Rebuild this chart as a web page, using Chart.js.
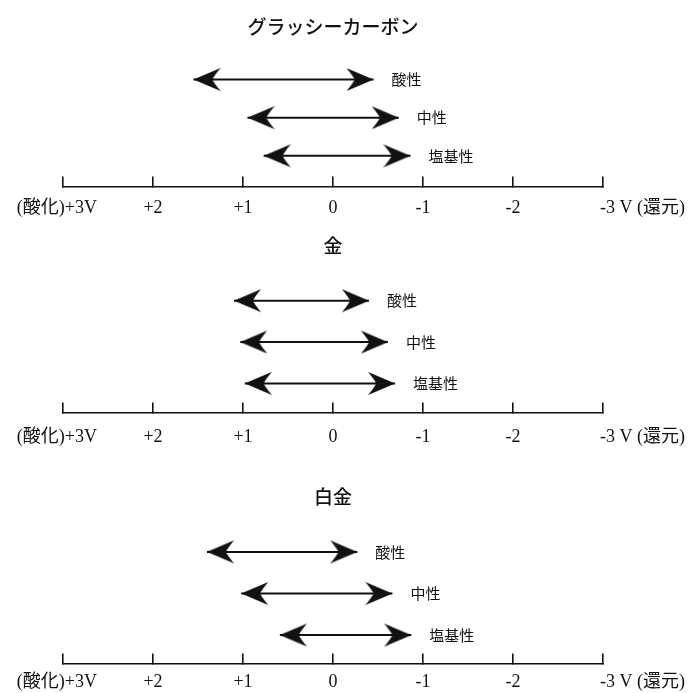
<!DOCTYPE html>
<html lang="ja">
<head>
<meta charset="utf-8">
<title>電位窓</title>
<script src="https://cdn.jsdelivr.net/npm/chart.js@4.4.1/dist/chart.umd.min.js"></script>
<style>
  html, body { margin: 0; padding: 0; background: #fff; overflow: hidden; width: 699px; height: 693px; }
  canvas { position: absolute; left: 0; }
</style>
</head>
<body>
<canvas id="panel0" width="699" height="232" style="top:8px"></canvas>
<canvas id="panel1" width="699" height="245" style="top:227px"></canvas>
<canvas id="panel2" width="699" height="233" style="top:478px"></canvas>
<script>
// Potential axis tick labels, from +3 V (oxidation) to -3 V (reduction)
const tickValues = [3, 2, 1, 0, -1, -2, -3];
const tickLabels = ['(酸化)+3V', '+2', '+1', '0', '-1', '-2', '-3 V (還元)'];

// Electrolyte conditions, top row to bottom row
const conditions = ['酸性', '中性', '塩基性'];
const rowLevels = [2, 1, 0];

// Electrode names
const electrodes = ['グラッシーカーボン', '金', '白金'];

// Potential windows [anodic limit, cathodic limit] in V for each condition
const glassyCarbonWindows = [[1.55, -0.45], [0.95, -0.73], [0.77, -0.86]];
const goldWindows = [[1.10, -0.40], [1.03, -0.61], [0.98, -0.69]];
const platinumWindows = [[1.40, -0.27], [1.02, -0.66], [0.59, -0.87]];

const INK = '#111';
const SERIF = '"Liberation Serif", "Noto Sans CJK JP", serif';
const GOTHIC = '"Noto Sans CJK JP", "Noto Sans", sans-serif';
const TICK_SIZE = 18;

// Barbed arrowhead image; the tip sits at the image centre, pointing right
function makeArrowHead() {
  const L = 27, H = 11.5;
  const c = document.createElement('canvas');
  c.width = 2 * L;
  c.height = 2 * H + 2;
  const g = c.getContext('2d');
  const cx = L, cy = H + 1;
  g.fillStyle = INK;
  g.beginPath();
  g.moveTo(cx, cy);
  g.quadraticCurveTo(cx - L * 0.5, cy - H * 0.5, cx - L, cy - H);
  g.quadraticCurveTo(cx - L * 0.74, cy - H * 0.25, cx - L * 0.7, cy);
  g.quadraticCurveTo(cx - L * 0.74, cy + H * 0.25, cx - L, cy + H);
  g.quadraticCurveTo(cx - L * 0.5, cy + H * 0.5, cx, cy);
  g.closePath();
  g.fill();
  return c;
}
const arrowHead = makeArrowHead();

// Writes each condition's name just right of its arrow
const conditionLabels = {
  id: 'conditionLabels',
  afterDatasetsDraw(chart) {
    const ctx = chart.ctx;
    ctx.save();
    ctx.fillStyle = INK;
    ctx.font = '15px ' + GOTHIC;
    ctx.textAlign = 'left';
    ctx.textBaseline = 'middle';
    chart.data.datasets.forEach((ds, i) => {
      const pts = chart.getDatasetMeta(i).data;
      const right = Math.max(...pts.map(p => p.x));
      ctx.fillText(ds.label, right + 18, pts[0].y);
    });
    ctx.restore();
  }
};

// Writes the two end labels of the potential axis beside their ticks
const axisEndLabels = {
  id: 'axisEndLabels',
  afterDraw(chart) {
    const scale = chart.scales.x;
    const o = scale.options;
    const y = scale.top + o.grid.tickLength + o.ticks.padding + TICK_SIZE * 0.6;
    const ctx = chart.ctx;
    ctx.save();
    ctx.fillStyle = INK;
    ctx.font = TICK_SIZE + 'px ' + SERIF;
    ctx.textBaseline = 'middle';
    ctx.textAlign = 'right';
    ctx.fillText(tickLabels[0], scale.getPixelForValue(tickValues[0]) + 34, y);
    ctx.textAlign = 'left';
    ctx.fillText(tickLabels[tickLabels.length - 1], scale.getPixelForValue(tickValues[tickValues.length - 1]) - 3, y);
    ctx.restore();
  }
};

function buildPanel(canvasId, title, windows, yMin, labelGap) {
  const datasets = windows.map((w, i) => ({
    label: conditions[i],
    data: [{ x: w[0], y: rowLevels[i] }, { x: w[1], y: rowLevels[i] }],
    showLine: true,
    borderColor: INK,
    borderWidth: 2,
    pointStyle: arrowHead,
    pointRadius: 1,
    pointRotation: [180, 0],
    clip: false
  }));

  return new Chart(document.getElementById(canvasId), {
    type: 'scatter',
    data: { datasets },
    options: {
      responsive: false,
      animation: false,
      devicePixelRatio: 1,
      events: [],
      layout: { padding: { left: 63, right: 96, top: 0, bottom: 0 } },
      plugins: {
        legend: { display: false },
        tooltip: { enabled: false },
        title: {
          display: true,
          text: title,
          color: INK,
          font: { family: GOTHIC, size: 19, weight: '500' },
          padding: { top: 7.6, bottom: 14.4 }
        }
      },
      scales: {
        x: {
          type: 'linear',
          min: -3,
          max: 3,
          reverse: true,
          border: { display: true, color: INK, width: 1.6 },
          grid: { drawOnChartArea: false, drawTicks: true, tickLength: -10, color: INK, lineWidth: 1.6 },
          ticks: {
            stepSize: 1,
            autoSkip: false,
            maxRotation: 0,
            padding: labelGap,
            color: INK,
            font: { family: SERIF, size: TICK_SIZE },
            callback: (v) => {
              const i = tickValues.indexOf(v);
              if (i <= 0 || i === tickValues.length - 1) return '';
              return tickLabels[i];
            }
          }
        },
        y: { type: 'linear', display: false, min: yMin, max: 2.7 }
      }
    },
    plugins: [conditionLabels, axisEndLabels]
  });
}

buildPanel('panel0', electrodes[0], glassyCarbonWindows, -0.8, 21);
buildPanel('panel1', electrodes[1], goldWindows, -0.7, 24);
buildPanel('panel2', electrodes[2], platinumWindows, -0.68, 18);
</script>
</body>
</html>
